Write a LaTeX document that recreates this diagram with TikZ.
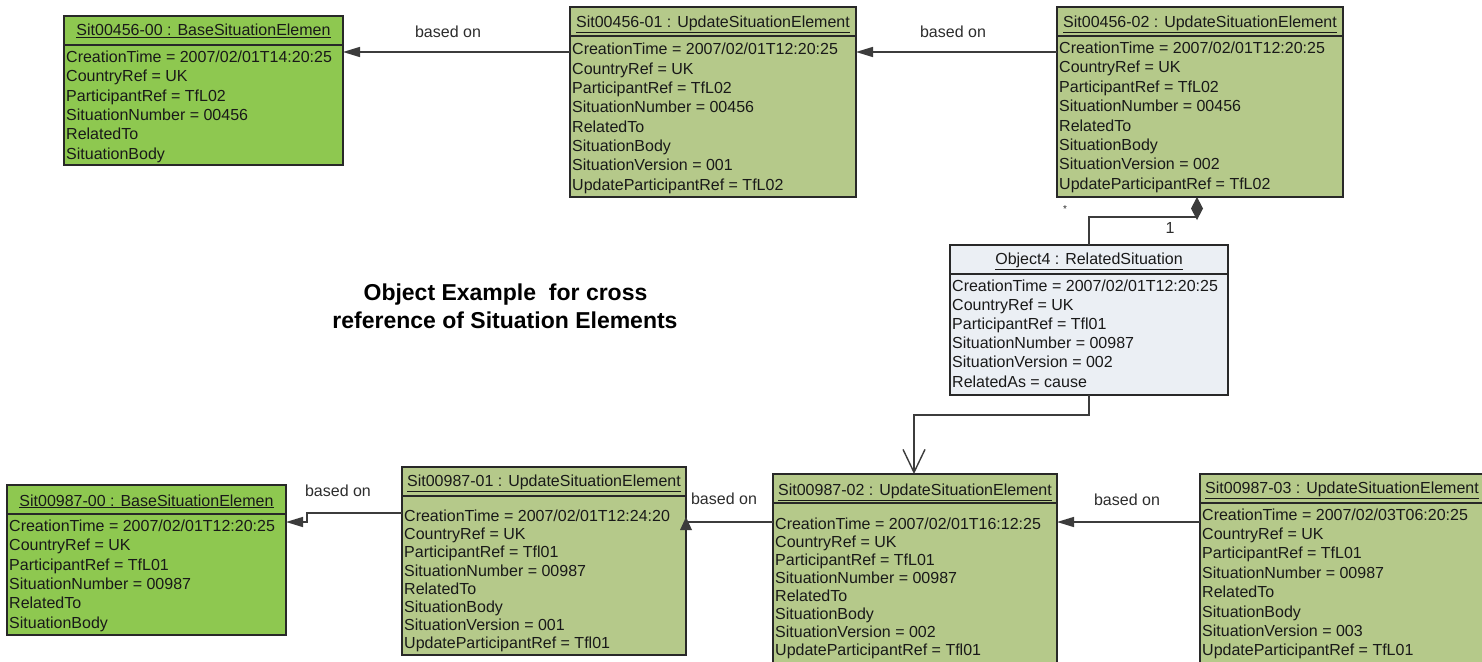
\documentclass[tikz,border=0pt]{standalone}
\usepackage{fontspec}
\setmainfont{Liberation Sans}
\usetikzlibrary{arrows.meta}

\definecolor{brightgreen}{RGB}{142,200,80}
\definecolor{olivegreen}{RGB}{181,201,138}
\definecolor{paleblue}{RGB}{235,239,244}
\definecolor{boxline}{RGB}{40,40,40}
\definecolor{connline}{RGB}{60,60,60}
\definecolor{txt}{RGB}{25,25,25}
\definecolor{lbltxt}{RGB}{45,45,45}

\newcommand\bodyfont{\fontsize{16}{19}\selectfont}
\newcommand\titlefont{\fontsize{23}{28}\selectfont\bfseries}

\tikzset{
  objbox/.style={draw=boxline, line width=1.4pt, inner sep=0pt, outer sep=0pt},
  brightfill/.style={fill=brightgreen},
  olivefill/.style={fill=olivegreen},
  greyfill/.style={fill=paleblue},
  sepline/.style={draw=boxline, line width=1.6pt},
  headtext/.style={font=\bodyfont, text=txt, inner sep=0pt, anchor=base},
  bodytext/.style={font=\bodyfont, text=txt, inner sep=0pt, anchor=base west},
  conn/.style={draw=connline, line width=1.4pt},
  assoc/.style={conn, -{Triangle[length=17pt,width=10pt]}},
  lbl/.style={font=\bodyfont, text=lbltxt, inner sep=0pt},
  titletext/.style={font=\titlefont, text=black, inner sep=0pt, anchor=base}
}

% object frame: name, x, top, width, height, header height, fill style
\newcommand\umlframe[7]{%
  \node[objbox,#7,minimum width=#4pt,minimum height=#5pt,anchor=north west] (#1) at (#2,#3) {};
  \draw[sepline] ([yshift=-#6pt]#1.north west) -- ([yshift=-#6pt]#1.north east);
}
% object text: name, header baseline, first attribute baseline, line pitch, header, attributes
\newcommand\umltext[6]{%
  \node[headtext] (#1-h) at ([yshift=-#2pt]#1.north) {\underline{#5}};
  \foreach \t [count=\i] in {#6} {
    \node[bodytext] (#1-\i) at ([xshift=2pt,yshift={-#3pt-(\i-1)*#4pt}]#1.north west) {\t};
  }
}

\begin{document}
\begin{tikzpicture}[x=1pt,y=-1pt]
\useasboundingbox (0,0) rectangle (1482,661);
\clip (0,0) rectangle (1482,661);
\fill[white] (0,0) rectangle (1482,661);

% situation 00456
\umlframe{A}{64}{16}{279}{149}{29}{brightfill}
\umltext{A}{20}{46.5}{19.3}{Sit00456-00 : BaseSituationElemen}{CreationTime = 2007/02/01T14:20:25, CountryRef = UK, ParticipantRef = TfL02, SituationNumber = 00456, RelatedTo, SituationBody}

\umlframe{B}{570}{7}{286}{190}{29}{olivefill}
\umltext{B}{20.5}{48}{19.3}{Sit00456-01 : UpdateSituationElement}{CreationTime = 2007/02/01T12:20:25, CountryRef = UK, ParticipantRef = TfL02, SituationNumber = 00456, RelatedTo, SituationBody, SituationVersion = 001, UpdateParticipantRef = TfL02}

\umlframe{C}{1057}{7}{286}{190}{29}{olivefill}
\umltext{C}{20.5}{46.5}{19.4}{Sit00456-02 : UpdateSituationElement}{CreationTime = 2007/02/01T12:20:25, CountryRef = UK, ParticipantRef = TfL02, SituationNumber = 00456, RelatedTo, SituationBody, SituationVersion = 002, UpdateParticipantRef = TfL02}

% related situation
\umlframe{D}{950}{245}{278}{150}{29}{greyfill}
\umltext{D}{19.5}{46.5}{19.1}{Object4 : RelatedSituation}{CreationTime = 2007/02/01T12:20:25, CountryRef = UK, ParticipantRef = Tfl01, SituationNumber = 00987, SituationVersion = 002, RelatedAs = cause}

% situation 00987
\umlframe{E}{7}{485}{279}{150}{29}{brightfill}
\umltext{E}{21}{46.5}{19.3}{Sit00987-00 : BaseSituationElemen}{CreationTime = 2007/02/01T12:20:25, CountryRef = UK, ParticipantRef = TfL01, SituationNumber = 00987, RelatedTo, SituationBody}

\umlframe{F}{402}{467}{284}{188}{29}{olivefill}
\umltext{F}{19}{54.5}{18.2}{Sit00987-01 : UpdateSituationElement}{CreationTime = 2007/02/01T12:24:20, CountryRef = UK, ParticipantRef = Tfl01, SituationNumber = 00987, RelatedTo, SituationBody, SituationVersion = 001, UpdateParticipantRef = Tfl01}

\umlframe{G}{773}{474}{284}{200}{29}{olivefill}
\umltext{G}{21.5}{55}{18.1}{Sit00987-02 : UpdateSituationElement}{CreationTime = 2007/02/01T16:12:25, CountryRef = UK, ParticipantRef = TfL01, SituationNumber = 00987, RelatedTo, SituationBody, SituationVersion = 002, UpdateParticipantRef = Tfl01}

\umlframe{H}{1200}{474}{284}{200}{29}{olivefill}
\umltext{H}{19.5}{46}{19.4}{Sit00987-03 : UpdateSituationElement}{CreationTime = 2007/02/03T06:20:25, CountryRef = UK, ParticipantRef = TfL01, SituationNumber = 00987, RelatedTo, SituationBody, SituationVersion = 003, UpdateParticipantRef = TfL01}

% routing points
\coordinate (ab) at (0,52);
\coordinate (cd) at (1197,217);
\coordinate (dg) at (914,415);
\coordinate (hg) at (0,522);
\coordinate (fe1) at (307,513);
\coordinate (fe2) at (307,522);

% "based on" links
\draw[assoc] (B.west |- ab) -- (A.east |- ab);
\draw[assoc] (C.west |- ab) -- (B.east |- ab);
\draw[assoc] (H.west |- hg) -- (G.east |- hg);
\draw[conn] (G.west |- hg) -- (F.east |- hg);
\fill[connline] (F.east |- hg) ++(-6,8) -- ++(6,-13) -- ++(6,13) -- cycle;
\draw[assoc] (F.west |- fe1) -- (fe1) -- (fe2) -- (E.east |- fe2);

\node[lbl] (l1) at (448,32) {based on};
\node[lbl] (l2) at (953,32) {based on};
\node[lbl] (l3) at (338,491) {based on};
\node[lbl] (l4) at (724,499) {based on};
\node[lbl] (l5) at (1127,500) {based on};

% composition and dependency of the related situation
\draw[conn, {Diamond[length=23pt,width=12pt]}-] (C.south -| cd) -- (cd) -| (D.north);
\draw[conn, -{Straight Barb[length=23pt,width=22pt]}] (D.south) |- (dg) -- (G.north -| dg);
\node[lbl, font=\fontsize{10}{12}\selectfont] (mstar) at (1065,209) {*};
\node[lbl] (mone) at (1170,228) {1};

% title
\node[titletext] (t1) at (505.5,300) {Object Example~ for cross};
\node[titletext] (t2) at (505,328) {reference of Situation Elements};
\end{tikzpicture}
\end{document}
